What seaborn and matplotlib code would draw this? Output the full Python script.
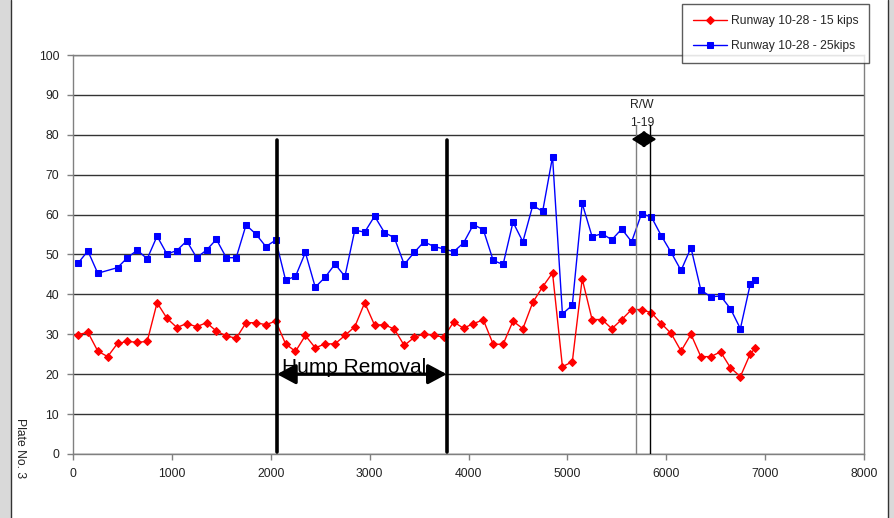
import numpy as np
import pandas as pd
import seaborn as sns
import matplotlib.pyplot as plt
from matplotlib.patches import Rectangle, FancyArrowPatch
from matplotlib.lines import Line2D

# station (ft) of each reading, every 100 ft, plus the last one at 6900
stations = [50 + 100 * k for k in range(69)] + [6900]

kips15 = [29.9, 30.5, 25.8, 24.4, 27.7, 28.2, 28.0, 28.2, 37.9, 34.0,
          31.7, 32.7, 31.9, 32.9, 30.8, 29.6, 29.0, 32.9, 32.9, 32.4,
          33.3, 27.6, 25.7, 29.7, 26.6, 27.6, 27.6, 29.7, 31.9, 37.9,
          32.3, 32.4, 31.3, 27.2, 29.2, 30.1, 29.7, 29.3, 33.1, 31.5,
          32.7, 33.6, 27.5, 27.5, 33.3, 31.4, 38.0, 41.9, 45.4, 21.9,
          23.1, 43.9, 33.7, 33.7, 31.4, 33.7, 36.2, 36.2, 35.4, 32.7,
          30.2, 25.8, 30.0, 24.4, 24.4, 25.6, 21.6, 19.4, 25.1, 26.5]

# the 25 kip run has no reading at 350 ft
kips25 = [47.8, 50.9, 45.3, None, 46.7, 49.2, 51.1, 48.9, 54.6, 50.1,
          51.0, 53.4, 49.2, 51.1, 53.8, 49.2, 49.2, 57.4, 55.1, 52.0,
          53.6, 43.6, 44.5, 50.5, 41.8, 44.3, 47.6, 44.5, 56.1, 55.6,
          59.6, 55.5, 54.2, 47.5, 50.5, 53.2, 52.0, 51.4, 50.7, 52.9,
          57.5, 56.2, 48.5, 47.5, 58.1, 53.2, 62.3, 60.8, 74.5, 35.1,
          37.3, 62.8, 54.5, 55.2, 53.7, 56.4, 53.2, 60.2, 59.4, 54.7,
          50.5, 46.0, 51.7, 41.1, 39.4, 39.6, 36.4, 31.4, 42.6, 43.6]

hump_start, hump_end = 2063, 3780
rw_left, rw_right = 5698, 5840

df15 = pd.DataFrame({"station": stations, "value": kips15})
df25 = pd.DataFrame({"station": stations, "value": kips25}).dropna()

sns.set_style("white")
plt.rcParams["font.family"] = ["Liberation Sans", "DejaVu Sans"]

fig = plt.figure(figsize=(8.94, 5.18), dpi=100)
ax = fig.add_axes([0.0817, 0.1236, 0.9664 - 0.0817, 0.8938 - 0.1236])

# page edges
fig.patches.append(Rectangle((0, 0), 11 / 894, 1, transform=fig.transFigure,
                             facecolor="#d9d9d9", edgecolor="none", zorder=-5))
fig.patches.append(Rectangle((888 / 894, 0), 6 / 894, 1, transform=fig.transFigure,
                             facecolor="#d9d9d9", edgecolor="none", zorder=-5))
fig.lines.append(Line2D([11 / 894, 11 / 894], [0, 1], transform=fig.transFigure,
                        color="#333333", lw=1))
fig.lines.append(Line2D([888 / 894, 888 / 894], [0, 1], transform=fig.transFigure,
                        color="#333333", lw=1))

sns.lineplot(data=df15, x="station", y="value", ax=ax, color="red", lw=1,
             marker="D", markersize=3.8, markeredgecolor="red", estimator=None,
             label="Runway 10-28 - 15 kips", zorder=4)
sns.lineplot(data=df25, x="station", y="value", ax=ax, color="blue", lw=1,
             marker="s", markersize=4.3, markeredgecolor="blue", estimator=None,
             label="Runway 10-28 - 25kips", zorder=4)

ax.set_xlim(0, 8000)
ax.set_ylim(0, 100)
ax.set_xticks(range(0, 8001, 1000))
ax.set_yticks(range(0, 101, 10))
ax.set_xlabel("")
ax.set_ylabel("")
ax.yaxis.grid(True, color="#333333", lw=1)
ax.xaxis.grid(False)
ax.set_axisbelow(True)
for s in ax.spines.values():
    s.set_color("#808080")
    s.set_linewidth(1)
ax.tick_params(axis="both", labelsize=8.7, colors="#222222", length=4,
               width=1, direction="out", bottom=True, left=True, pad=6)
ax.tick_params(axis="both", color="#808080")

# hump removal section
for xv in (hump_start, hump_end):
    ax.plot([xv, xv], [0.5, 78.7], color="black", lw=2.6, zorder=5)
ax.add_patch(FancyArrowPatch((hump_start, 20), (hump_end, 20),
                             arrowstyle="<|-|>,head_length=1.4,head_width=0.75",
                             mutation_scale=8, color="black", lw=2.4,
                             shrinkA=0, shrinkB=0, zorder=6))
ax.text(2840, 20.3, "Hump Removal", fontsize=15, ha="center", va="baseline",
        color="black", zorder=5)

# runway 1-19 crossing
ax.plot([rw_left, rw_left], [0, 82.4], color="#808080", lw=1, zorder=5)
ax.plot([rw_right, rw_right], [0, 82.4], color="black", lw=1, zorder=5)
ax.add_patch(FancyArrowPatch((5650, 78.9), (5900, 78.9),
                             arrowstyle="<|-|>,head_length=1.1,head_width=0.7",
                             mutation_scale=7, color="black", lw=1.6,
                             shrinkA=0, shrinkB=0, zorder=6))
ax.text(5758, 87.5, "R/W", fontsize=8.7, ha="center", va="center", color="#222222")
ax.text(5760, 83.0, "1-19", fontsize=8.7, ha="center", va="center", color="#222222")

leg = ax.legend(loc="upper right", bbox_to_anchor=(869 / 894, 1 - 4 / 518),
                bbox_transform=fig.transFigure, borderaxespad=0, fontsize=8.7,
                frameon=True, fancybox=False, handlelength=2.8,
                borderpad=0.9, labelspacing=1.1, handletextpad=0.3)
leg.get_frame().set_edgecolor("#333333")
leg.get_frame().set_linewidth(1)
leg.set_zorder(10)

fig.text(20 / 894, 1 - 448 / 518, "Plate No. 3", rotation=270, fontsize=8.7,
         ha="center", va="center", color="#222222")

fig.savefig("out.png", dpi=100)
